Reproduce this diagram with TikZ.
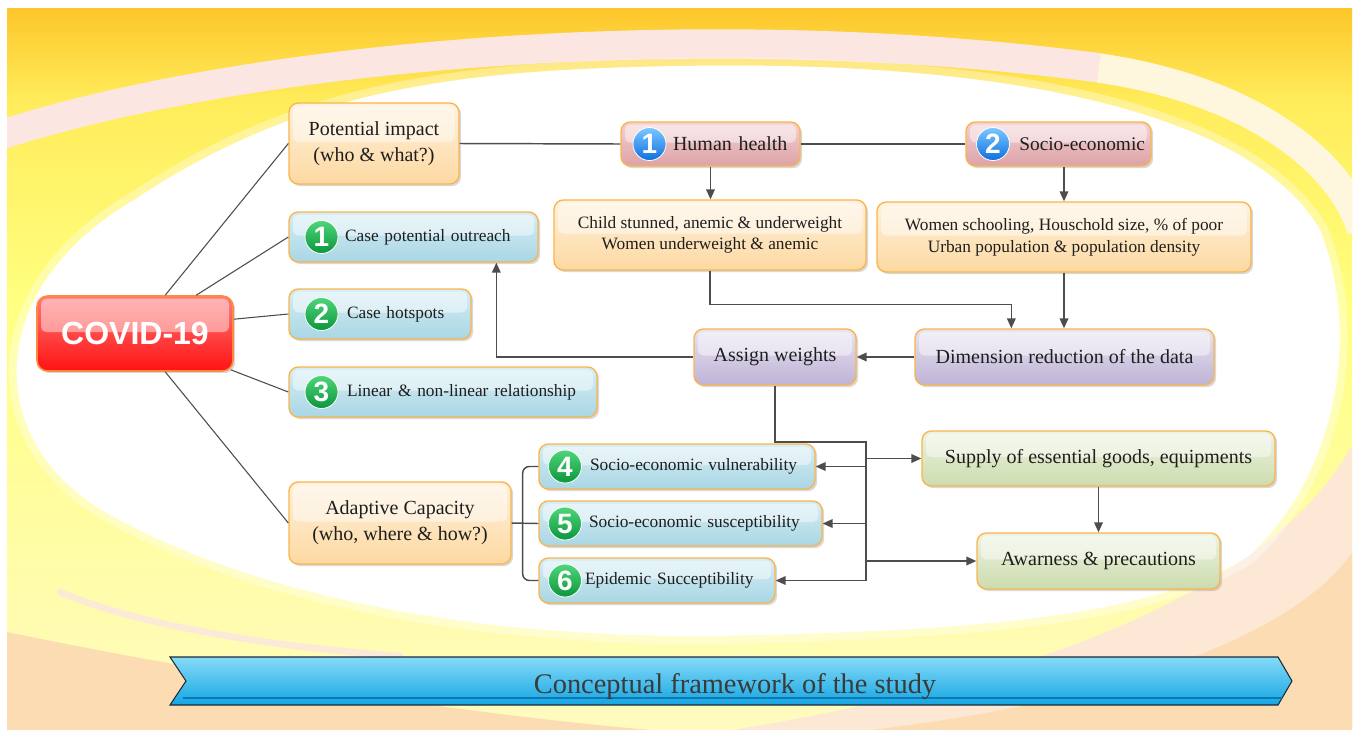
\documentclass[tikz,border=0pt]{standalone}
\usepackage{fontspec}
\setmainfont{Liberation Serif}
\setsansfont{Liberation Sans}
\usetikzlibrary{arrows.meta,calc,shadows}
\definecolor{bgTop}{HTML}{FDC62B}
\definecolor{bgMid}{HTML}{FFEC5A}
\definecolor{bgYel}{HTML}{FFFF80}
\definecolor{bgPale}{HTML}{FFFBC0}
\definecolor{peach}{HTML}{FCDDB3}
\definecolor{peachLt}{HTML}{FDE8D6}
\definecolor{pinkband}{HTML}{FCE6E2}
\definecolor{creamband}{HTML}{FFF6DE}
\definecolor{boxEdge}{HTML}{F9B54C}
\definecolor{orTop}{HTML}{FFF1DC}
\definecolor{orBot}{HTML}{FDD9A2}
\definecolor{blTop}{HTML}{D6EEF5}
\definecolor{blBot}{HTML}{A9D6E4}
\definecolor{pkTop}{HTML}{F4D2D4}
\definecolor{pkBot}{HTML}{DCA2A7}
\definecolor{puTop}{HTML}{E8E3F1}
\definecolor{puBot}{HTML}{BFB3D6}
\definecolor{grTop}{HTML}{EDF3E1}
\definecolor{grBot}{HTML}{CCDCAE}
\definecolor{redTop}{HTML}{FF7A7A}
\definecolor{redBot}{HTML}{FF1212}
\definecolor{redEdge}{HTML}{FF8A3A}
\definecolor{gTop}{HTML}{4FD57A}
\definecolor{gBot}{HTML}{0B963C}
\definecolor{bTop}{HTML}{7CC8FF}
\definecolor{bBot}{HTML}{0E6FE0}
\definecolor{lineCol}{HTML}{4D4D4D}
\definecolor{textCol}{HTML}{1E1E1E}
\definecolor{banTop}{HTML}{86DAF8}
\definecolor{banBot}{HTML}{14A6E2}
\definecolor{banLine}{HTML}{0C78B8}
\definecolor{banEdge}{HTML}{1C2A36}
\definecolor{banText}{HTML}{3A3A3A}
\begin{document}
\begin{tikzpicture}[x=0.75pt,y=-0.75pt,
  gloss/.style={path picture={\fill[white,opacity=0.45,rounded corners=4pt]
      ([xshift=3pt,yshift=-2pt]path picture bounding box.north west) rectangle
      ([xshift=-3pt,yshift=1pt]path picture bounding box.east);}},
  boxbase/.style={rounded corners=7pt, draw=boxEdge, line width=1pt, align=center,
      inner sep=0pt, text=textCol,
      drop shadow={shadow xshift=1.6pt, shadow yshift=-1.6pt, opacity=0.3}, gloss},
  orangebox/.style={boxbase, top color=orTop, bottom color=orBot},
  bluebox/.style={boxbase, top color=blTop, bottom color=blBot, align=left},
  pinkbox/.style={boxbase, top color=pkTop, bottom color=pkBot, align=left},
  purplebox/.style={boxbase, top color=puTop, bottom color=puBot},
  greenbox/.style={boxbase, top color=grTop, bottom color=grBot},
  fsmall/.style={font=\fontsize{13}{16}\selectfont},
  fbig/.style={font=\fontsize{15}{19.5}\selectfont},
  badge/.style={circle, minimum size=24.75pt, inner sep=0pt, text=white,
      font=\sffamily\bfseries\fontsize{21}{21}\selectfont, draw=white, line width=0.6pt},
  gbadge/.style={badge, top color=gTop, bottom color=gBot},
  bbadge/.style={badge, top color=bTop, bottom color=bBot},
  conn/.style={draw=lineCol, line width=1.1pt},
  thinconn/.style={draw=lineCol, line width=0.8pt},
  arr/.style={conn, -{Triangle[length=7.5pt,width=6.5pt]}}
]
\useasboundingbox (0,0) rectangle (1356,729);
\fill[white] (0,0) rectangle (1356,729);
% ---------- background ----------
\begin{scope}
\clip (7,8) rectangle (1352,729);
\shade[top color=bgTop, bottom color=bgMid] (7,8) rectangle (1352,100);
\shade[top color=bgMid, bottom color=bgYel] (7,99) rectangle (1352,300);
\shade[top color=bgYel, bottom color=bgPale] (7,299) rectangle (1352,729);
% peach regions
\fill[peach] (7,632) .. controls (200,672) and (500,722) .. (720,735) -- (7,735) -- cycle;
\fill[peachLt] (700,735) .. controls (1000,690) and (1280,600) .. (1360,430) -- (1360,735) -- cycle;
\fill[peach] (820,735) .. controls (1050,715) and (1300,650) .. (1360,540) -- (1360,735) -- cycle;
% bands
\draw[pinkband, line width=22pt] (0,135) .. controls (250,55) and (700,15) .. (1100,68);
\draw[creamband, line width=22pt] (1099,68) .. controls (1250,90) and (1340,160) .. (1362,230);
\draw[pinkband, line width=5pt, line cap=round, opacity=0.8] (60,592) .. controls (130,622) and (250,645) .. (400,656);
% white area
\path[fill=white, opacity=0.5, draw=white, line width=12pt, draw opacity=0.35]
  (680,66) .. controls (1000,60) and (1250,110) .. (1320,230)
  .. controls (1360,330) and (1340,470) .. (1250,555)
  .. controls (1150,620) and (950,632) .. (700,636)
  .. controls (450,636) and (250,590) .. (120,520)
  .. controls (-20,450) and (-20,290) .. (134,200)
  .. controls (300,90) and (450,70) .. (680,66) -- cycle;
\fill[white]
  (680,66) .. controls (1000,60) and (1250,110) .. (1320,230)
  .. controls (1360,330) and (1340,470) .. (1250,555)
  .. controls (1150,620) and (950,632) .. (700,636)
  .. controls (450,636) and (250,590) .. (120,520)
  .. controls (-20,450) and (-20,290) .. (134,200)
  .. controls (300,90) and (450,70) .. (680,66) -- cycle;
\end{scope}
% ---------- nodes ----------
\node[rounded corners=8pt, draw=redEdge, line width=1.2pt, top color=redTop, bottom color=redBot,
      minimum width=147pt, minimum height=56.25pt, inner sep=0pt, text=white,
      font=\sffamily\bfseries\fontsize{24}{28}\selectfont,
      drop shadow={shadow xshift=1.6pt, shadow yshift=-1.6pt, opacity=0.3}, gloss]
      (covid) at (135,333.5) {COVID-19};
\node[orangebox, fbig, minimum width=127.5pt, minimum height=60.75pt] (pot) at (374,143.5)
      {Potential impact\\(who \& what?)};
\node[bluebox, fsmall, text width=186.75pt, minimum height=37.5pt] (out) at (413.5,237)
      {\hspace*{42pt}Case potential outreach};
\node[bluebox, fsmall, text width=136.5pt, minimum height=37.5pt] (hot) at (380,314)
      {\hspace*{43.5pt}Case hotspots};
\node[bluebox, fsmall, text width=231pt, minimum height=37.5pt] (lin) at (443,392)
      {\hspace*{43.5pt}Linear \& non-linear relationship};
\node[orangebox, fbig, minimum width=166.5pt, minimum height=61.5pt] (adapt) at (400,523)
      {Adaptive Capacity\\(who, where \& how?)};
\node[bluebox, fsmall, text width=207pt, minimum height=33.75pt] (v4) at (677,466.5)
      {\hspace*{38.25pt}Socio-economic vulnerability};
\node[bluebox, fsmall, text width=212.25pt, minimum height=33.75pt] (v5) at (680.5,523.5)
      {\hspace*{37.5pt}Socio-economic susceptibility};
\node[bluebox, fsmall, text width=177pt, minimum height=33.75pt] (v6) at (657,580.5)
      {\hspace*{34.5pt}Epidemic Succeptibility};
\node[pinkbox, fbig, text width=134.25pt, minimum height=33pt] (hh) at (710.5,144)
      {\hspace*{39pt}Human health};
\node[pinkbox, font=\fontsize{14.5}{18}\selectfont, text width=138.75pt, minimum height=33pt] (se) at (1058.5,144)
      {\hspace*{40pt}Socio-economic};
\node[orangebox, fsmall, minimum width=234pt, minimum height=52.5pt] (child) at (710,235)
      {Child stunned, anemic \& underweight\\Women underweight \& anemic};
\node[orangebox, font=\fontsize{13}{16.5}\selectfont, minimum width=280.5pt, minimum height=52.5pt] (women) at (1064,237)
      {Women schooling, Houschold size, \% of poor\\Urban population \& population density};
\node[purplebox, fbig, minimum width=121.5pt, minimum height=42pt] (assign) at (775,357)
      {Assign weights};
\node[purplebox, fbig, minimum width=224.25pt, minimum height=42pt] (dim) at (1064.5,357)
      {Dimension reduction of the data};
\node[greenbox, fbig, minimum width=264.75pt, minimum height=41.25pt] (supply) at (1098.5,458.5)
      {Supply of essential goods, equipments};
\node[greenbox, fbig, minimum width=182.25pt, minimum height=42pt] (aware) at (1098.5,561)
      {Awarness \& precautions};
% badges
\node[gbadge] (b1) at (321.5,237) {1};
\node[gbadge] (b2) at (321.5,314) {2};
\node[gbadge] (b3) at (321.5,392) {3};
\node[gbadge] (b4) at (565,466.5) {4};
\node[gbadge] (b5) at (565,523.5) {5};
\node[gbadge] (b6) at (565,580.5) {6};
\node[bbadge] (bh1) at (649.5,144) {1};
\node[bbadge] (bh2) at (993,144) {2};
% ---------- connectors ----------
\draw[thinconn] ($(covid.north west)+(129,0)$) -- (pot.west);
\draw[thinconn] ($(covid.north west)+(160,0)$) -- (out.west);
\draw[thinconn] ($(covid.north east)+(0,24)$) -- (hot.west);
\draw[thinconn] ($(covid.south east)+(-3,-2)$) -- (lin.west);
\draw[thinconn] ($(covid.south west)+(129,0)$) -- (adapt.west);
\draw[conn] (pot.east) -- (hh.west);
\draw[conn] (hh.east) -- (se.west);
\draw[arr] (hh.south) -- (hh.south |- child.north);
\draw[arr] (women.north |- se.south) -- (women.north);
\draw[arr] (child.south) |- ($(dim.north west)+(97,-24)$) -- ($(dim.north west)+(97,0)$);
\draw[arr] (women.south) -- (women.south |- dim.north);
\draw[arr] (dim.west) -- (assign.east);
\draw[arr] (assign.west) -| ($(out.south west)+(208,0)$);
\coordinate (tr) at (866,442);
\draw[arr] (assign.south) |- (tr) |- (v6.east);
\draw[arr] (tr |- v4.east) -- (v4.east);
\draw[arr] (tr |- v5.east) -- (v5.east);
\draw[arr] (tr |- supply.west) -- (supply.west);
\draw[arr] (tr |- aware.west) -- (aware.west);
\draw[arr] (supply.south) -- (aware.north);
\draw[conn, rounded corners=5pt] (v4.west) -| ($(adapt.east)+(11,0)$) |- (v6.west);
\draw[conn] (adapt.east) -- (v5.west);
% ---------- banner ----------
\path[draw=banEdge, line width=0.8pt, top color=banTop, bottom color=banBot]
  (170,657) -- (1278,657) -- (1292,681) -- (1278,705) -- (170,705) -- (186,681) -- cycle;
\draw[banLine, line width=1.6pt] (183,698) -- (1282,698);
\node[anchor=base, text=banText, font=\fontsize{21.3}{24}\selectfont, inner sep=0pt]
  (title) at (735,693) {Conceptual framework of the study};
\end{tikzpicture}
\end{document}
